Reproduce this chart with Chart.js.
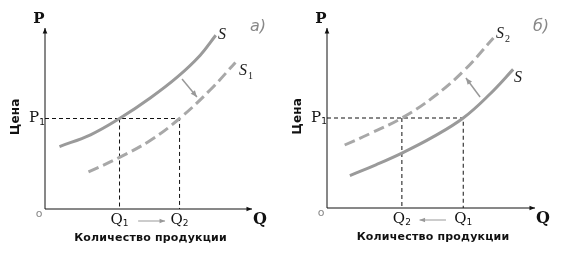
<!DOCTYPE html>
<html>
<head>
<meta charset="utf-8">
<script src="https://cdn.jsdelivr.net/npm/chart.js@4"></script>
<style>
  html,body{margin:0;padding:0;background:#fff;}
  #wrap{position:relative;width:563px;height:253px;}
  canvas{position:absolute;top:0;}
</style>
</head>
<body>
<div id="wrap">
  <canvas id="left" width="281" height="253" style="left:0"></canvas>
  <canvas id="right" width="282" height="253" style="left:281px"></canvas>
</div>
<script>
// ============ DATA ============
// [Q, P] points, axes run 0..10 in both panels
const leftS   = [[0.7,3.45],[2.2,4.1],[3.6,5.0],[5.1,6.15],[6.4,7.3],[7.5,8.5],[8.25,9.6]];
const leftS1  = [[2.1,2.05],[3.6,2.85],[5.1,3.8],[6.5,5.0],[8.0,6.6],[9.2,8.1]];
const rightS2 = [[0.85,3.5],[2.1,4.15],[3.6,5.0],[5.1,6.15],[6.6,7.65],[8.0,9.45]];
const rightS  = [[1.1,1.8],[2.35,2.4],[3.6,3.05],[5.1,3.95],[6.55,5.0],[7.85,6.35],[8.95,7.7]];
const P1 = 5.0;
const leftQ  = {Q1:3.6, Q2:6.5};
const rightQ = {Q1:6.55, Q2:3.6};
const xTitle = 'Количество продукции';
const yTitle = 'Цена';

const pts = a => a.map(([x,y]) => ({x, y}));

function arrow(ctx, x1, y1, x2, y2, head, color, w) {
  const a = Math.atan2(y2-y1, x2-x1);
  ctx.save();
  ctx.strokeStyle = color; ctx.fillStyle = color; ctx.lineWidth = w;
  ctx.beginPath(); ctx.moveTo(x1,y1); ctx.lineTo(x2,y2); ctx.stroke();
  ctx.beginPath();
  ctx.moveTo(x2,y2);
  ctx.lineTo(x2 - head*Math.cos(a-0.4), y2 - head*Math.sin(a-0.4));
  ctx.lineTo(x2 - head*Math.cos(a+0.4), y2 - head*Math.sin(a+0.4));
  ctx.closePath(); ctx.fill();
  ctx.restore();
}

function sub(ctx, base, idx, x, y, font, subFont) {
  // text with a subscript, centred at x
  ctx.font = font;
  const w1 = ctx.measureText(base).width;
  ctx.font = subFont;
  const w2 = ctx.measureText(idx).width;
  const x0 = x - (w1 + w2) / 2;
  ctx.font = font; ctx.textAlign = 'left';
  ctx.fillText(base, x0, y);
  ctx.font = subFont;
  ctx.fillText(idx, x0 + w1, y + 4);
}

const decor = {
  id: 'decor',
  afterDatasetsDraw(chart, args, o) {
    const ctx = chart.ctx, xs = chart.scales.x, ys = chart.scales.y;
    const X = v => xs.getPixelForValue(v), Y = v => ys.getPixelForValue(v);
    const x0 = X(0), y0 = Y(0), ca = chart.chartArea;
    // axes
    arrow(ctx, x0, y0, x0, ca.top, 6, '#111', 1);
    arrow(ctx, x0, y0, ca.right, y0, 6, '#111', 1);
    ctx.save();
    ctx.textBaseline = 'middle';
    ctx.fillStyle = '#111';
    ctx.font = 'bold 15px "DejaVu Serif"'; ctx.textAlign = 'center';
    ctx.fillText('P', x0 - 6, ca.top - 9);
    ctx.font = 'bold 16px "DejaVu Serif"';
    ctx.fillText('Q', ca.right + 8, y0 + 11);
    ctx.fillStyle = '#888'; ctx.font = '11px "DejaVu Sans"';
    ctx.fillText('o', x0 - 6, y0 + 5);
    ctx.fillStyle = '#111';
    const lf = '15px "DejaVu Serif"', sf = '9px "DejaVu Sans"';
    sub(ctx, 'P', '1', x0 - 8, Y(P1), lf, sf);
    sub(ctx, 'Q', '1', X(o.q.Q1), y0 + 11, lf, sf);
    sub(ctx, 'Q', '2', X(o.q.Q2), y0 + 11, lf, sf);
    // axis titles
    ctx.font = 'bold 11px "DejaVu Sans"'; ctx.textAlign = 'center';
    ctx.letterSpacing = '0.2px';
    ctx.fillText(xTitle, (x0 + ca.right) / 2 + 2, y0 + 29);
    ctx.save();
    ctx.translate(x0 - 29, Y(5.1)); ctx.rotate(-Math.PI/2);
    ctx.font = 'bold 12px "DejaVu Sans"';
    ctx.fillText(yTitle, 0, 0);
    ctx.restore();
    ctx.letterSpacing = '0px';
    // panel letter
    ctx.fillStyle = '#888'; ctx.font = 'italic 16px "DejaVu Sans"';
    ctx.fillText(o.tag, ca.right + 6, ca.top - 1);
    // curve labels
    ctx.fillStyle = '#222';
    o.labels.forEach(l => {
      ctx.font = 'italic 16px "Liberation Serif"'; ctx.textAlign = 'left';
      ctx.fillText(l.t, l.x, l.y);
      if (l.s) { ctx.font = '10px "Liberation Serif"'; ctx.fillText(l.s, l.x + 9, l.y + 5); }
    });
    ctx.restore();
    // shift arrows
    arrow(ctx, X(o.shift[0]), Y(o.shift[1]), X(o.shift[2]), Y(o.shift[3]), 7, '#999', 1.5);
    arrow(ctx, X(o.qArrow[0]), y0 + 12, X(o.qArrow[1]), y0 + 12, 6, '#999', 1);
  }
};

function build(id, pad, solid, dashed, q, opts) {
  const qa = Math.max(q.Q1, q.Q2), qb = Math.min(q.Q1, q.Q2);
  const ref = d => ({
    type: 'line', data: pts(d),
    borderColor: '#111', borderWidth: 1, borderDash: [4,3], pointRadius: 0, tension: 0
  });
  return new Chart(document.getElementById(id), {
    type: 'scatter',
    data: { datasets: [
      { data: pts(solid), showLine: true, borderColor: '#9a9a9a', borderWidth: 3, pointRadius: 0, tension: 0.4 },
      { data: pts(dashed), showLine: true, borderColor: '#a8a8a8', borderWidth: 3, borderDash: [11,5], pointRadius: 0, tension: 0.4 },
      ref([[0,P1],[qa,P1],[qa,0]]),
      ref([[qb,P1],[qb,0]])
    ]},
    options: {
      responsive: false, animation: false, clip: false,
      layout: { padding: pad },
      plugins: { legend: {display:false}, tooltip: {enabled:false}, decor: opts },
      scales: {
        x: { type: 'linear', min: 0, max: 10, display: false },
        y: { type: 'linear', min: 0, max: 10, display: false }
      }
    },
    plugins: [decor]
  });
}

build('left', {left:45, right:29, top:28, bottom:44}, leftS, leftS1, leftQ, {
  q: leftQ, tag: 'а)', shift: [6.62,7.18,7.34,6.19], qArrow: [4.5,5.8],
  labels: [{t:'S', x:218, y:35}, {t:'S', s:'1', x:239, y:71}]
});
build('right', {left:46, right:28, top:28, bottom:45}, rightS, rightS2, rightQ, {
  q: rightQ, tag: 'б)', shift: [7.36,6.17,6.68,7.22], qArrow: [5.72,4.45],
  labels: [{t:'S', s:'2', x:215, y:34}, {t:'S', x:233, y:78}]
});
</script>
</body>
</html>
